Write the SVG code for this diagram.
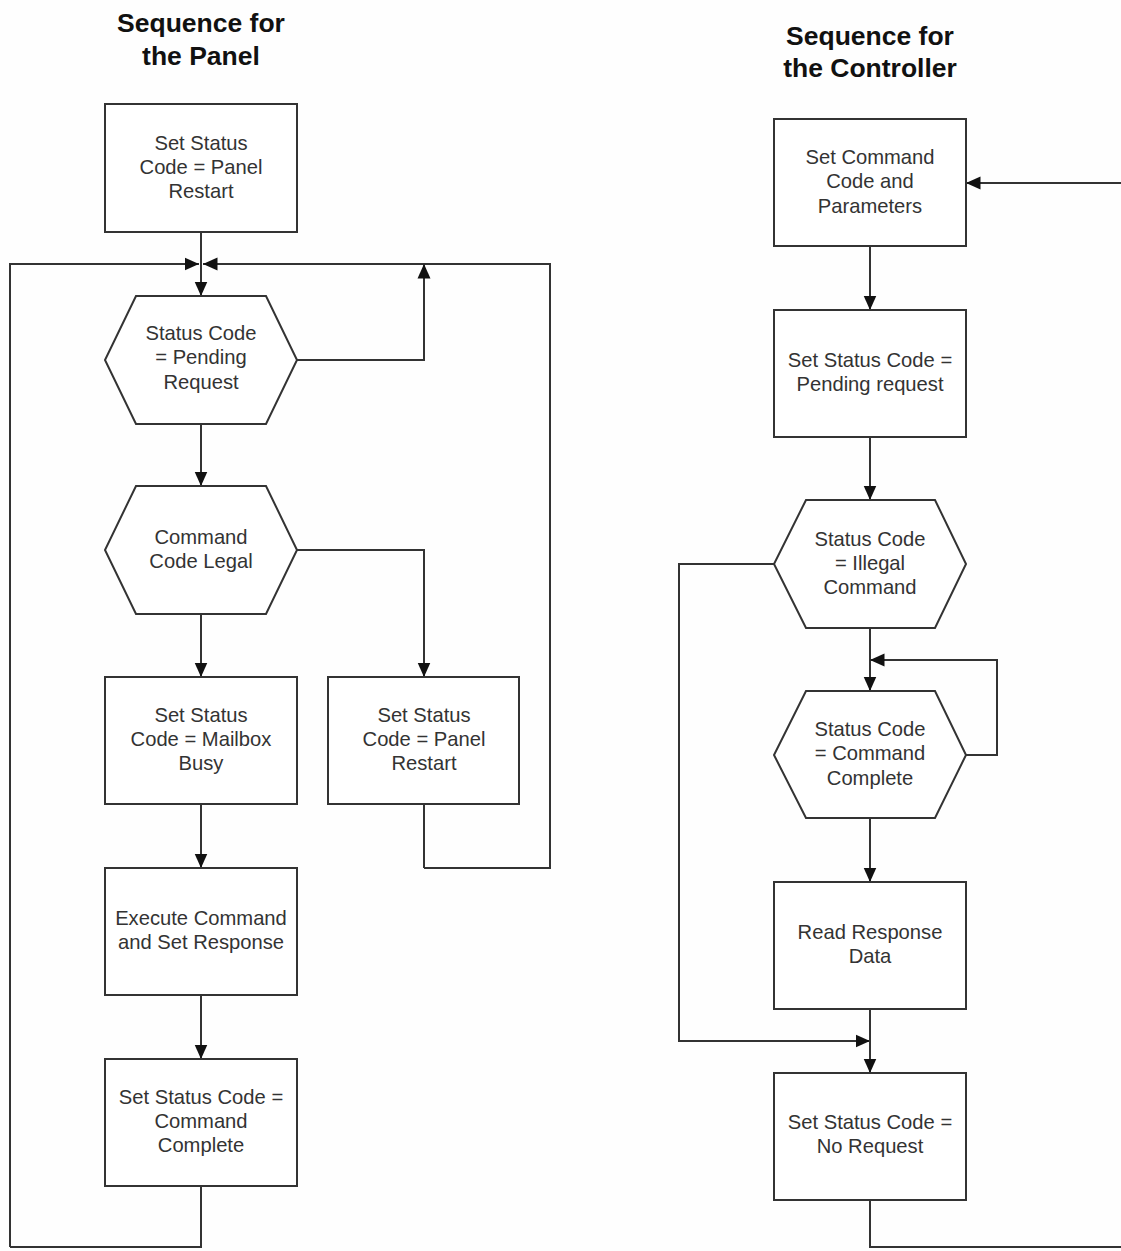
<svg xmlns="http://www.w3.org/2000/svg" width="1121" height="1251" viewBox="0 0 1121 1251">
<defs>
<marker id="ah" markerUnits="userSpaceOnUse" markerWidth="16" markerHeight="16" viewBox="0 0 16 16" refX="14.5" refY="8" orient="auto">
<path d="M0,1.5 L14.5,8 L0,14.5 Z" fill="#111"/>
</marker>
</defs>
<style>
.n{fill:#fff;stroke:#333;stroke-width:2}
.c{fill:none;stroke:#333;stroke-width:2}
.t{font-family:"Liberation Sans",Arial,sans-serif;font-size:20.2px;fill:#333;text-anchor:middle}
.h{font-family:"Liberation Sans",Arial,sans-serif;font-size:26.5px;font-weight:bold;fill:#111;text-anchor:middle}
</style>
<rect width="1121" height="1251" fill="#fefefe"/>
<g id="titles">
<text class="h" x="201" y="32">Sequence for</text>
<text class="h" x="201" y="65">the Panel</text>
<text class="h" x="870" y="45">Sequence for</text>
<text class="h" x="870" y="77">the Controller</text>
</g>
<g id="connectors">
<path class="c" d="M201,232 V264"/>
<path class="c" d="M10,1247 V264 H199" marker-end="url(#ah)"/>
<path class="c" d="M424,868 H550 V264 H203" marker-end="url(#ah)"/>
<path class="c" d="M297,360 H424 V264" marker-end="url(#ah)"/>
<path class="c" d="M201,264 V296" marker-end="url(#ah)"/>
<path class="c" d="M201,424 V486" marker-end="url(#ah)"/>
<path class="c" d="M201,614 V677" marker-end="url(#ah)"/>
<path class="c" d="M297,550 H424 V677" marker-end="url(#ah)"/>
<path class="c" d="M201,804 V868" marker-end="url(#ah)"/>
<path class="c" d="M424,804 V868"/>
<path class="c" d="M201,995 V1059" marker-end="url(#ah)"/>
<path class="c" d="M201,1186 V1247 H10"/>
<path class="c" d="M870,1200 V1247 H1123 V183 H966" marker-end="url(#ah)"/>
<path class="c" d="M870,246 V310" marker-end="url(#ah)"/>
<path class="c" d="M870,437 V500" marker-end="url(#ah)"/>
<path class="c" d="M870,628 V691" marker-end="url(#ah)"/>
<path class="c" d="M966,755 H997 V660 H870" marker-end="url(#ah)"/>
<path class="c" d="M774,564 H679 V1041 H870" marker-end="url(#ah)"/>
<path class="c" d="M870,818 V882" marker-end="url(#ah)"/>
<path class="c" d="M870,1009 V1073" marker-end="url(#ah)"/>
</g>
<g id="p1"><rect class="n" x="105" y="104" width="192" height="128"/>
<text class="t" x="201" y="150">Set Status</text><text class="t" x="201" y="174">Code = Panel</text><text class="t" x="201" y="198">Restart</text></g>
<g id="p2"><polygon class="n" points="136,296 266,296 297,360 266,424 136,424 105,360"/>
<text class="t" x="201" y="340">Status Code</text><text class="t" x="201" y="364">= Pending</text><text class="t" x="201" y="389">Request</text></g>
<g id="p3"><polygon class="n" points="136,486 266,486 297,550 266,614 136,614 105,550"/>
<text class="t" x="201" y="544">Command</text><text class="t" x="201" y="568">Code Legal</text></g>
<g id="p4"><rect class="n" x="105" y="677" width="192" height="127"/>
<text class="t" x="201" y="722">Set Status</text><text class="t" x="201" y="746">Code = Mailbox</text><text class="t" x="201" y="770">Busy</text></g>
<g id="p5"><rect class="n" x="328" y="677" width="191" height="127"/>
<text class="t" x="424" y="722">Set Status</text><text class="t" x="424" y="746">Code = Panel</text><text class="t" x="424" y="770">Restart</text></g>
<g id="p6"><rect class="n" x="105" y="868" width="192" height="127"/>
<text class="t" x="201" y="925">Execute Command</text><text class="t" x="201" y="949">and Set Response</text></g>
<g id="p7"><rect class="n" x="105" y="1059" width="192" height="127"/>
<text class="t" x="201" y="1104">Set Status Code =</text><text class="t" x="201" y="1128">Command</text><text class="t" x="201" y="1152">Complete</text></g>
<g id="c1"><rect class="n" x="774" y="119" width="192" height="127"/>
<text class="t" x="870" y="164">Set Command</text><text class="t" x="870" y="188">Code and</text><text class="t" x="870" y="213">Parameters</text></g>
<g id="c2"><rect class="n" x="774" y="310" width="192" height="127"/>
<text class="t" x="870" y="367">Set Status Code =</text><text class="t" x="870" y="391">Pending request</text></g>
<g id="c3"><polygon class="n" points="806,500 935,500 966,564 935,628 806,628 774,564"/>
<text class="t" x="870" y="546">Status Code</text><text class="t" x="870" y="570">= Illegal</text><text class="t" x="870" y="594">Command</text></g>
<g id="c4"><polygon class="n" points="806,691 935,691 966,755 935,818 806,818 774,755"/>
<text class="t" x="870" y="736">Status Code</text><text class="t" x="870" y="760">= Command</text><text class="t" x="870" y="785">Complete</text></g>
<g id="c5"><rect class="n" x="774" y="882" width="192" height="127"/>
<text class="t" x="870" y="939">Read Response</text><text class="t" x="870" y="963">Data</text></g>
<g id="c6"><rect class="n" x="774" y="1073" width="192" height="127"/>
<text class="t" x="870" y="1129">Set Status Code =</text><text class="t" x="870" y="1153">No Request</text></g>
</svg>
